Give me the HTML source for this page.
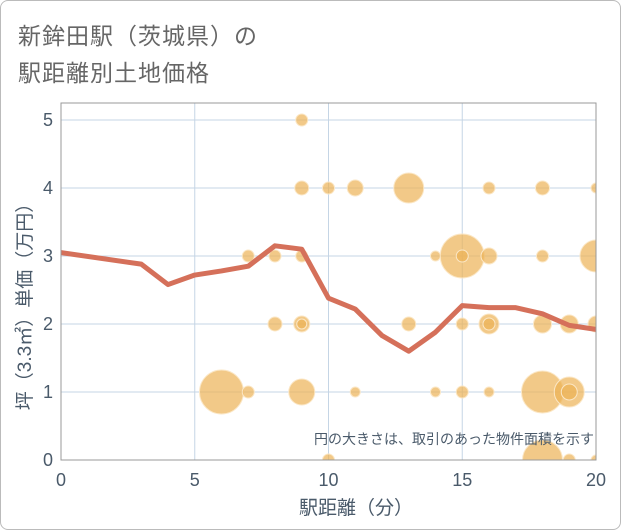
<!DOCTYPE html>
<html><head><meta charset="utf-8"><style>
body{margin:0;background:#fff;}
#wrap{position:relative;width:619px;height:528px;border:1px solid #bbb;border-radius:8px;overflow:hidden;font-family:"Liberation Sans","Noto Sans CJK JP",sans-serif;}
.title{position:absolute;left:17px;font-size:23px;color:#666;letter-spacing:1px;}
</style></head><body>
<div id="wrap">
<div class="title" style="top:16px">新鉾田駅（茨城県）の</div>
<div class="title" style="top:53px">駅距離別土地価格</div>
<svg id="chart" width="621" height="530" style="position:absolute;left:-1px;top:-1px"></svg>
</div>
<script>
const xTicks=[0,5,10,15,20];
const yTicks=[0,1,2,3,4,5];
const lineX=[0,3,4,5,6,7,8,9,10,11,12,13,14,15,16,17,18,19,20];
const lineY=[3.05,2.88,2.58,2.72,2.78,2.85,3.15,3.1,2.38,2.22,1.83,1.6,1.88,2.27,2.24,2.24,2.15,1.98,1.92];
const bubX=[9,9,10,11,13,16,18,20,7,8,9,14,15,15,16,18,20,8,9,9,13,15,16,16,18,19,20,6,7,9,11,14,15,16,18,19,19,10,18,19,20];
const bubY=[5,4,4,4,4,4,4,4,3,3,3,3,3,3,3,3,3,2,2,2,2,2,2,2,2,2,2,1,1,1,1,1,1,1,1,1,1,0,0,0,0];
const bubR=[6,7,6,8,15,6,7,5,6,6,6,5,22,6,8,6,16,7,8,5,7,6,10,6,9,9,8,22,6,13,5,5,6,5,21,15,8,6,20,6,5];
const L=61,R=596,T=103,B=460;
const sx=v=>L+(v-0)/20*(R-L);
const sy=v=>B-v/5*(B-120);
const NS='http://www.w3.org/2000/svg';
const svg=document.getElementById('chart');
function mk(tag,attrs,parent){const e=document.createElementNS(NS,tag);for(const k in attrs)e.setAttribute(k,attrs[k]);(parent||svg).appendChild(e);return e;}
const defs=mk('defs',{});
const cp=mk('clipPath',{id:'pc'},defs);mk('rect',{x:L,y:T,width:R-L,height:B-T},cp);
const grid=mk('g',{});


xTicks.forEach(t=>{mk('line',{x1:sx(t),x2:sx(t),y1:T,y2:B,stroke:'#c5d5e5','stroke-width':1},grid);
const tx=mk('text',{x:sx(t),y:486,'text-anchor':'middle','font-size':18,fill:'#4a5a6a'});tx.textContent=t;

});
yTicks.forEach(t=>{mk('line',{x1:L,x2:R,y1:sy(t),y2:sy(t),stroke:'#c5d5e5','stroke-width':1},grid);
const tx=mk('text',{x:53,y:sy(t)+6,'text-anchor':'end','font-size':18,fill:'#4a5a6a'});tx.textContent=t;

});
const bg=mk('g',{'clip-path':'url(#pc)'});


bubX.forEach((x,i)=>{const c=mk('circle',{cx:sx(x),cy:sy(bubY[i]),r:bubR[i],fill:'#edb256','fill-opacity':0.7,stroke:'#fbe7c6','stroke-width':1},bg);

});
const pl=mk('polyline',{points:lineX.map((x,i)=>sx(x)+','+sy(lineY[i])).join(' '),fill:'none',stroke:'#d5705a','stroke-width':5,'stroke-linejoin':'round','clip-path':'url(#pc)'});


const fr=mk('rect',{x:L,y:T,width:R-L,height:B-T,fill:'none',stroke:'#999','stroke-width':1});


const note=mk('text',{x:594,y:444,'text-anchor':'end','font-size':14,fill:'#4a5a6a'});note.textContent='円の大きさは、取引のあった物件面積を示す';


const xt=mk('text',{x:356,y:514,'text-anchor':'middle','font-size':19,fill:'#4a5a6a'});xt.textContent='駅距離（分）';


const yt=mk('text',{x:0,y:0,'text-anchor':'middle','font-size':19,fill:'#4a5a6a',transform:'translate(31,302) rotate(-90)'});yt.textContent='坪（3.3㎡）単価（万円）';


</script>
</body></html>
